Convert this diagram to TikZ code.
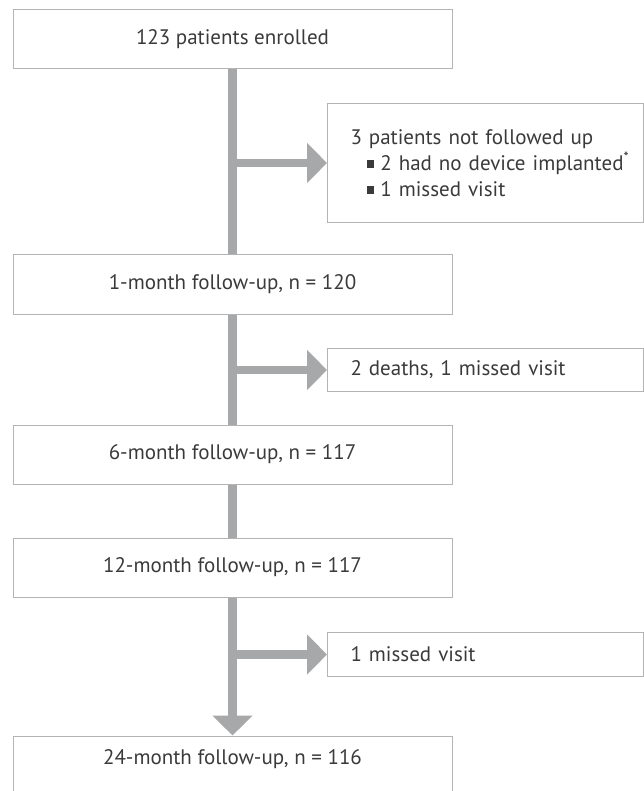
\documentclass[tikz,border=0pt]{standalone}
\usepackage{fontspec}
\setmainfont{PT Sans}
\usetikzlibrary{arrows.meta}

\definecolor{flowgray}{HTML}{A7A8AA}
\definecolor{boxline}{HTML}{B4B4B4}
\definecolor{txtgray}{HTML}{3A3A3A}

\newcommand{\sqbullet}{\rule[0.12em]{0.36em}{0.36em}\hspace{0.3em}}

\begin{document}
\begin{tikzpicture}[
						x=1pt, y=-1pt,
						every node/.style={font=\fontsize{21}{26}\selectfont, text=txtgray},
						stagebox/.style={draw=boxline, line width=1pt, minimum width=439pt,
							minimum height=59pt, inner sep=0pt},
						lossbox/.style={draw=boxline, line width=1pt, text width=270pt,
							align=left, inner xsep=23pt, inner ysep=0pt, anchor=north west},
						flow/.style={draw=flowgray, line width=8.5pt},
						flowhead/.style={flow, -{Triangle[length=20pt, width=39pt]}}
						]
						
						\useasboundingbox (0,0) rectangle (644,791);
						
						% follow-up stages
						\node[stagebox] (enrol) at (232.5,39) {123 patients enrolled};
						\node[stagebox] (m1) at (232.5,284.5) {1-month follow-up, n = 120};
						\node[stagebox] (m6) at (232.5,454.5) {6-month follow-up, n = 117};
						\node[stagebox] (m12) at (232.5,567.5) {12-month follow-up, n = 117};
						\node[stagebox, text height=15pt, text depth=18pt] (m24) at (232.5,765.5)
						{24-month follow-up, n = 116};
						
						% losses
						\node[lossbox, minimum height=119pt] (lossA) at (327,103)
						{3 patients not followed up\\
							\mbox{\hspace*{16pt}\sqbullet 2 had no device implanted\textsuperscript{*}}\\
							\hspace*{16pt}\sqbullet 1 missed visit};
						\node[lossbox, minimum height=43pt] (lossB) at (327,348)
						{2 deaths, 1 missed visit};
						\node[lossbox, minimum height=44pt] (lossC) at (327,632)
						{1 missed visit};
						
						% main flow
						\draw[flow] (enrol.south) -- (m1.north);
						\draw[flow] (m1.south) -- (m6.north);
						\draw[flow] (m6.south) -- (m12.north);
						\draw[flowhead] (m12.south) -- (m24.north);
						
						% side arrows
						\draw[flowhead] (enrol.south |- lossA.west) -- (lossA.west);
						\draw[flowhead] (m1.south |- lossB.west) -- (lossB.west);
						\draw[flowhead] (m12.south |- lossC.west) -- (lossC.west);
						
					\end{tikzpicture}
\end{document}
